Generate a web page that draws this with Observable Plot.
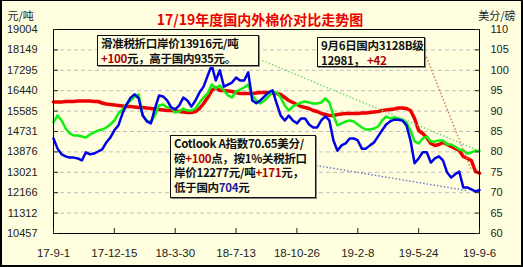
<!DOCTYPE html>
<html><head><meta charset="utf-8">
<script src="https://cdn.jsdelivr.net/npm/d3@7"></script>
<script src="https://cdn.jsdelivr.net/npm/@observablehq/plot@0.6"></script>
<style>
html,body{margin:0;padding:0;background:#ffffe0;}
#wrap{position:relative;width:523px;height:267px;overflow:hidden;background:#ffffe0;}
#wrap svg{position:absolute;left:0;top:0;}
#border{position:absolute;left:0;top:0;width:523px;height:267px;box-sizing:border-box;border-style:solid;border-color:#000;border-width:1px 2px 2px 2px;pointer-events:none;}
.note{position:absolute;background:#ffffe0;border:1px solid #111;box-shadow:1px 1px 0 #888;font:bold 11.5px/14.7px "Noto Sans CJK SC",sans-serif;letter-spacing:-0.3px;color:#111;padding:0 0 0 3px;box-sizing:border-box;white-space:nowrap;overflow:hidden;}
.up{color:#b00000}
.dn{color:#1a1a9c}
</style></head>
<body>
<div id="wrap"></div>
<script>
// Weekly sample dates (Fridays)
const dates = [
"2017-09-01","2017-09-08","2017-09-15","2017-09-22","2017-09-29","2017-10-06","2017-10-13","2017-10-20","2017-10-27","2017-11-03",
"2017-11-10","2017-11-17","2017-11-24","2017-12-01","2017-12-08","2017-12-15","2017-12-22","2017-12-29","2018-01-05","2018-01-12",
"2018-01-19","2018-01-26","2018-02-02","2018-02-09","2018-02-16","2018-02-23","2018-03-02","2018-03-09","2018-03-16","2018-03-23",
"2018-03-30","2018-04-06","2018-04-13","2018-04-20","2018-04-27","2018-05-04","2018-05-11","2018-05-18","2018-05-25","2018-06-01",
"2018-06-08","2018-06-15","2018-06-22","2018-06-29","2018-07-06","2018-07-13","2018-07-20","2018-07-27","2018-08-03","2018-08-10",
"2018-08-17","2018-08-24","2018-08-31","2018-09-07","2018-09-14","2018-09-21","2018-09-28","2018-10-05","2018-10-12","2018-10-19",
"2018-10-26","2018-11-02","2018-11-09","2018-11-16","2018-11-23","2018-11-30","2018-12-07","2018-12-14","2018-12-21","2018-12-28",
"2019-01-04","2019-01-11","2019-01-18","2019-01-25","2019-02-01","2019-02-08","2019-02-15","2019-02-22","2019-03-01","2019-03-08",
"2019-03-15","2019-03-22","2019-03-29","2019-04-05","2019-04-12","2019-04-19","2019-04-26","2019-05-03","2019-05-10","2019-05-17",
"2019-05-24","2019-05-31","2019-06-07","2019-06-14","2019-06-21","2019-06-28","2019-07-05","2019-07-12","2019-07-19","2019-07-26",
"2019-08-02","2019-08-09","2019-08-16","2019-08-23","2019-08-30","2019-09-06"];

// 国内3128B级 (元/吨)
const domestic = [
15966,15966,15966,15987,15987,15987,16008,16008,16008,16008,
15987,15987,15924,15882,15862,15841,15820,15799,15778,15778,
15757,15736,15736,15715,15694,15673,15652,15631,15610,15610,
15589,15568,15547,15527,15527,15568,15694,15904,16155,16448,
16574,16448,16448,16427,16406,16364,16323,16323,16323,16323,
16343,16364,16364,16364,16343,16323,16281,16155,16029,15945,
15862,15778,15736,15694,15610,15568,15485,15443,15401,15401,
15443,15464,15485,15485,15485,15485,15505,15505,15527,15547,
15568,15610,15631,15652,15673,15715,15715,15694,15610,15275,
14772,14647,14479,14228,14144,14186,14270,14186,14102,14018,
13934,13683,13599,13516,13055,12981];

// 滑准税折口岸价 (元/吨)
const slidingTariff = [
15108,15401,15191,14856,14647,14563,14563,14521,14479,14605,
14689,14772,14814,14898,15024,15191,15485,15652,15862,16029,
16197,16281,15401,15191,15108,15401,15820,15862,15736,15736,
15527,15568,15694,15610,15610,15694,15945,16155,16323,16700,
16532,16658,16448,16239,16155,16406,16490,16574,16700,16239,
16029,15904,16029,16197,16406,16364,16155,15820,15610,15778,
15862,15945,15987,15945,15904,15904,15945,16113,15945,15401,
14982,15066,15149,15191,15149,15024,14898,14814,14814,14856,
14940,15191,15359,15275,15317,15275,15233,15108,14772,14312,
14228,14437,14521,14312,14312,14353,14353,14186,14186,14102,
13976,13934,13809,13851,13934,13916];

// Cotlook A指数 (美分/磅)
const cotlookA = [
83.3,80.8,79.4,78.9,78.6,78.6,78.4,77.9,79.9,79.4,
79.6,80.1,80.6,82.3,83.5,85.3,86.5,89.4,91.6,93.3,
94.1,93.1,88.9,87.5,87.0,90.6,93.8,93.6,92.6,90.9,
90.4,91.4,93.3,92.6,91.1,92.6,94.6,96.0,98.7,101.2,
97.5,100.0,96.0,96.5,97.0,98.2,97.5,97.5,99.5,92.6,
91.9,92.6,93.6,94.6,95.1,91.9,88.9,87.7,88.9,87.7,
87.0,88.2,88.2,86.7,86.0,86.0,87.7,88.7,87.7,82.8,
80.3,81.6,82.1,83.3,83.3,82.8,80.8,80.8,81.6,82.3,
83.8,85.3,86.7,87.5,87.9,87.9,87.7,86.5,82.8,77.2,
78.4,79.9,79.9,77.4,78.4,78.9,77.9,75.0,73.7,74.5,
75.2,71.3,71.3,70.8,70.3,70.65];

const leftTicks = [10457,11312,12166,13021,13876,14731,15585,16440,17295,18149,19004];
const rightTicks = [60,65,70,75,80,85,90,95,100,105,110];
const xTickDates = ["2017-09-01","2017-12-15","2018-03-30","2018-07-13","2018-10-26","2019-02-08","2019-05-24","2019-09-06"];
const xTickLabels = ["17-9-1","17-12-15","18-3-30","18-7-13","18-10-26","19-2-8","19-5-24","19-9-6"];

const titleText = "17/19年度国内外棉价对比走势图";
const leftUnit = "元/吨";
const rightUnit = "美分/磅";

// leader lines from the notes to the series ends
const leaderStarts = ["2018-08-27","2019-06-04","2018-11-28"];
const leaderStartValues = [17705, 17998, 76.67];
const leaderEnds = ["2019-09-06","2019-08-23","2019-08-16"];
const leaderEndValues = [13916, 13100, 70.5];
const leaderUnits = ["yuan","yuan","cents"];
const leaderColors = ["#77d877","#d08060","#7080c0"];

const yMin = leftTicks[0], yMax = leftTicks[leftTicks.length-1];
const rMin = rightTicks[0], rMax = rightTicks[rightTicks.length-1];
const toLeft = c => yMin + (c - rMin) * (yMax - yMin) / (rMax - rMin);
const toRight = v => rMin + (v - yMin) * (rMax - rMin) / (yMax - yMin);

const rows = dates.map((d, i) => ({
  date: new Date(d),
  domestic: domestic[i],
  sliding: slidingTariff[i],
  cotlook: toLeft(cotlookA[i])
}));
const leaders = leaderStarts.map((d, i) => ({
  x1: new Date(d),
  y1: leaderUnits[i] === "cents" ? toLeft(leaderStartValues[i]) : leaderStartValues[i],
  x2: new Date(leaderEnds[i]),
  y2: leaderUnits[i] === "cents" ? toLeft(leaderEndValues[i]) : leaderEndValues[i],
  color: leaderColors[i]
}));

const xLabelFor = d => {
  const i = xTickDates.findIndex(s => new Date(s).getTime() === d.getTime());
  return i >= 0 ? xTickLabels[i] : "";
};

const chart = Plot.plot({
  width: 523, height: 267,
  marginTop: 29, marginRight: 44, marginBottom: 34, marginLeft: 53,
  style: {background: "transparent", fontFamily: "'Liberation Sans', Arial, sans-serif", fontSize: "11px", color: "#222", overflow: "visible"},
  x: {type: "utc", domain: [new Date(dates[0]), new Date(dates[dates.length-1])]},
  y: {domain: [yMin, yMax]},
  marks: [
    Plot.ruleY(leftTicks.slice(1, -1), {stroke: "#bdbdbd", strokeDasharray: "4,3", strokeWidth: 1}),
    Plot.lineY(rows, {x: "date", y: "domestic", stroke: "#ee0000", strokeWidth: 3.5}),
    Plot.lineY(rows, {x: "date", y: "sliding", stroke: "#11ee11", strokeWidth: 2.5}),
    Plot.lineY(rows, {x: "date", y: "cotlook", stroke: "#0000e6", strokeWidth: 2.5}),
    Plot.link(leaders, {x1: "x1", y1: "y1", x2: "x2", y2: "y2", stroke: "color", strokeWidth: 1.5, strokeDasharray: "1.5,2"}),
    Plot.frame({stroke: "#000", strokeWidth: 1}),
    Plot.axisY(leftTicks, {anchor: "left", tickSize: -5, tickPadding: 21, tickFormat: d => String(d), label: null}),
    Plot.axisY(rightTicks.map(toLeft), {anchor: "right", tickSize: -5, tickPadding: 16, tickFormat: d => String(Math.round(toRight(d))), label: null}),
    Plot.axisX(xTickDates.map(d => new Date(d)), {anchor: "bottom", tickSize: -5, tickPadding: 20, tickFormat: xLabelFor, label: null, fontSize: 11.5}),
    Plot.text([titleText], {frameAnchor: "top", dx: -6.5, dy: -14.5, fill: "#ee0000", fontWeight: "bold", fontSize: 14, fontFamily: "'Noto Sans CJK SC', sans-serif"}),
    Plot.text([leftUnit], {frameAnchor: "top-left", textAnchor: "start", dx: -46, dy: -17, fill: "#222", fontSize: 11, fontFamily: "'Noto Sans CJK SC', sans-serif"}),
    Plot.text([rightUnit], {frameAnchor: "top-right", textAnchor: "end", dx: 36, dy: -17, fill: "#222", fontSize: 11, fontFamily: "'Noto Sans CJK SC', sans-serif"})
  ]
});

const wrap = document.getElementById("wrap");
wrap.appendChild(chart);

const notes = [
  {left: 97, top: 35, width: 162, height: 31, html: "滑准税折口岸价13916元/吨<br><span class='up'>+100</span>元，高于国内935元。"},
  {left: 317, top: 37, width: 108, height: 30, html: "9月6日国内3128B级<br>12981，&nbsp;<span class='up'>+42</span>"},
  {left: 170, top: 135, width: 146, height: 63, html: "Cotlook A指数70.65美分/<br>磅<span class='up'>+100</span>点，按1%关税折口<br>岸价12277元/吨<span class='up'>+171</span>元，<br>低于国内<span class='dn'>704</span>元"}
];
for (const n of notes) {
  const el = document.createElement("div");
  el.className = "note";
  el.style.left = n.left + "px"; el.style.top = n.top + "px";
  el.style.width = n.width + "px"; el.style.height = n.height + "px";
  el.innerHTML = n.html;
  wrap.appendChild(el);
}
const border = document.createElement("div");
border.id = "border";
wrap.appendChild(border);
</script>
</body></html>
